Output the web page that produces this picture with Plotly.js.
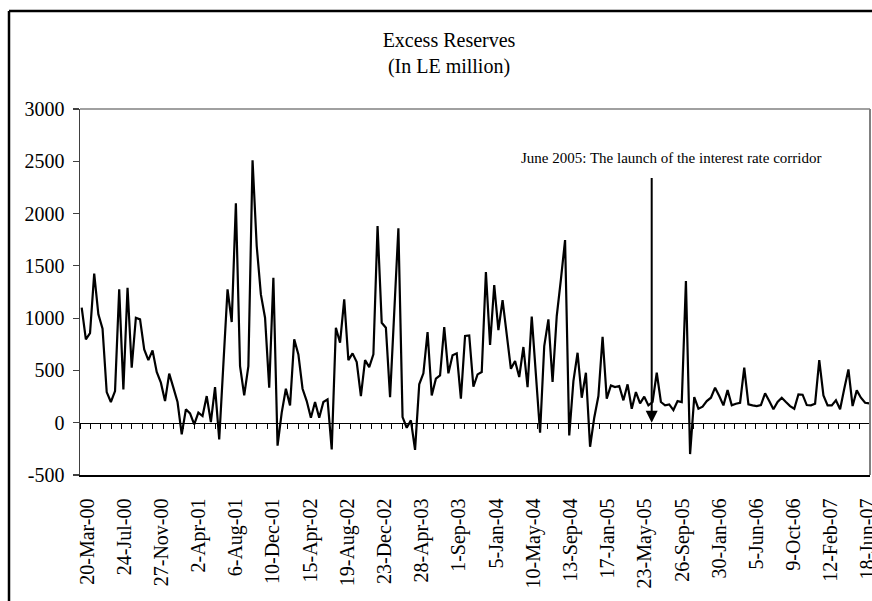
<!DOCTYPE html>
<html><head><meta charset="utf-8">
<script src="https://cdn.plot.ly/plotly-3.0.1.min.js"></script>
<style>html,body{margin:0;padding:0;background:#fff}#chart{width:872px;height:601px}</style>
</head><body><div id="chart"></div>
<script>
const excessReserves = [
  1100, 797, 856, 1425, 1036, 899, 293, 198, 303, 1275,
  319, 1291, 526, 1004, 988, 701, 599, 692, 485, 383,
  207, 469, 335, 198, -112, 128, 89, -16, 96, 64,
  255, 6, 341, -160, 560, 1275, 963, 2098, 542, 261,
  542, 2510, 1690, 1227, 1004, 335, 1387, -220, 96, 325,
  166, 797, 653, 325, 207, 48, 198, 48, 198, 223,
  -255, 908, 765, 1179, 599, 663, 580, 255, 599, 532,
  653, 1880, 956, 908, 245, 1052, 1860, 54, -48, 22,
  -260, 367, 472, 867, 261, 421, 453, 915, 472, 644,
  663, 230, 829, 835, 344, 462, 485, 1441, 743, 1317,
  886, 1173, 861, 516, 590, 437, 724, 341, 1014, 478,
  -96, 733, 988, 389, 1020, 1371, 1747, -121, 398, 669,
  239, 478, -230, 48, 255, 822, 230, 357, 341, 351,
  214, 367, 134, 293, 185, 249, 166, 198, 478, 198,
  166, 175, 121, 207, 198, 1355, -300, 245, 134, 153,
  207, 239, 335, 255, 166, 312, 166, 182, 191, 526,
  175, 166, 159, 169, 281, 207, 128, 198, 239, 198,
  159, 134, 271, 268, 169, 166, 182, 599, 261, 166,
  166, 214, 128, 325, 510, 159, 309, 239, 191, 185
];
const dateLabels = [
  '20-Mar-00','24-Jul-00','27-Nov-00','2-Apr-01','6-Aug-01','10-Dec-01',
  '15-Apr-02','19-Aug-02','23-Dec-02','28-Apr-03','1-Sep-03','5-Jan-04',
  '10-May-04','13-Sep-04','17-Jan-05','23-May-05','26-Sep-05','30-Jan-06',
  '5-Jun-06','9-Oct-06','12-Feb-07','18-Jun-07'
];
const yTickValues = [-500, 0, 500, 1000, 1500, 2000, 2500, 3000];
const chartTitle = 'Excess Reserves<br>(In LE million)';
const noteText = 'June 2005: The launch of the interest rate corridor';

// ---- layout geometry ----
const W = 872, H = 601, ML = 80, MR = 2, MT = 109, MB = 126;
const FIRST_PX = 81.7, STEP_PX = 4.167;       // pixel of first point, pixels per observation
const LABEL0_PX = 87, LABEL_STEP_PX = 37.19;  // date label positions
const ARROW_PX = 651.7;
const r0 = (ML - FIRST_PX) / STEP_PX;
const r1 = (W - MR - FIRST_PX) / STEP_PX;
const obsIndex = excessReserves.map((_, i) => i);
const labelPos = dateLabels.map((_, k) => (LABEL0_PX + LABEL_STEP_PX * k - FIRST_PX) / STEP_PX);
const arrowX = (ARROW_PX - FIRST_PX) / STEP_PX;
const plotH = H - MT - MB;
const yMin = -500, yMax = 3000;
const zeroPos = (0 - yMin) / (yMax - yMin);
const FONT = '"Liberation Serif", "Times New Roman", serif';

const traces = [
  {x: obsIndex, y: excessReserves, type: 'scatter', mode: 'lines',
   line: {color: '#000', width: 2.2}, hoverinfo: 'skip', showlegend: false},
  {x: obsIndex, y: excessReserves, xaxis: 'x2', type: 'scatter', mode: 'lines',
   line: {color: 'rgba(0,0,0,0)', width: 0}, hoverinfo: 'skip', showlegend: false}
];

const layout = {
  width: W, height: H,
  margin: {l: ML, r: MR, t: MT, b: MB, pad: 0},
  paper_bgcolor: '#fff', plot_bgcolor: '#fff',
  font: {family: FONT, color: '#000', size: 20},
  showlegend: false,
  title: {text: chartTitle, x: 449 / W, xanchor: 'center', xref: 'container',
          y: 1 - 47 / H, yanchor: 'middle', yref: 'container',
          font: {family: FONT, size: 20, color: '#000'}},
  xaxis: {range: [r0, r1], showgrid: false, zeroline: false,
          showline: true, linecolor: '#000', linewidth: 1.5,
          tickmode: 'array', tickvals: labelPos, ticktext: dateLabels,
          ticks: '', tickangle: -90, ticklabelstandoff: 14, ticklabeloverflow: 'allow',
          tickfont: {family: FONT, size: 20, color: '#000'}, fixedrange: true},
  xaxis2: {range: [r0, r1], overlaying: 'x', anchor: 'free', position: zeroPos,
           showgrid: false, zeroline: false, showline: true, linecolor: '#000', linewidth: 1.5,
           tickmode: 'linear', tick0: r0, dtick: (r1 - r0) / 76,
           ticks: 'outside', ticklen: 5, tickwidth: 1, tickcolor: '#000',
           showticklabels: false, fixedrange: true},
  yaxis: {range: [yMin, yMax], tickmode: 'array', tickvals: yTickValues,
          ticktext: yTickValues.map(String),
          showgrid: false, zeroline: false, showline: true, linecolor: '#404040', linewidth: 1.5,
          ticks: 'outside', ticklen: 6, tickwidth: 1.2, tickcolor: '#404040', ticklabelstandoff: 4,
          tickfont: {family: FONT, size: 20, color: '#000'}, fixedrange: true},
  shapes: [
    // plot area top and right border
    {type: 'line', xref: 'paper', yref: 'paper', x0: 0, x1: 1, y0: 1, y1: 1,
     line: {color: '#808080', width: 1.5}},
    {type: 'line', xref: 'paper', yref: 'paper', x0: 1, x1: 1, y0: 0, y1: 1,
     line: {color: '#808080', width: 2}},
    // outer chart frame (left and top)
    {type: 'line', xref: 'paper', yref: 'paper', x0: (9 - ML) / (W - ML - MR), x1: 1.2,
     y0: (H - MB - 11) / plotH, y1: (H - MB - 11) / plotH, line: {color: '#000', width: 2.5}},
    {type: 'line', xref: 'paper', yref: 'paper', x0: (9 - ML) / (W - ML - MR), x1: (9 - ML) / (W - ML - MR),
     y0: -1, y1: (H - MB - 11) / plotH, line: {color: '#000', width: 2.5}}
  ],
  annotations: [
    {x: arrowX, y: 0, xref: 'x', yref: 'y', axref: 'x', ayref: 'y', ax: arrowX, ay: 2355,
     text: '', showarrow: true, arrowhead: 2, arrowsize: 1.2, arrowwidth: 2, arrowcolor: '#000', standoff: 0},
    {x: (671 - ML) / (W - ML - MR), y: (H - MB - 158) / plotH, xref: 'paper', yref: 'paper',
     text: noteText, showarrow: false, xanchor: 'center', yanchor: 'middle',
     font: {family: FONT, size: 15, color: '#000'}}
  ]
};

Plotly.newPlot('chart', traces, layout, {staticPlot: true, displayModeBar: false});
</script>
</body></html>
